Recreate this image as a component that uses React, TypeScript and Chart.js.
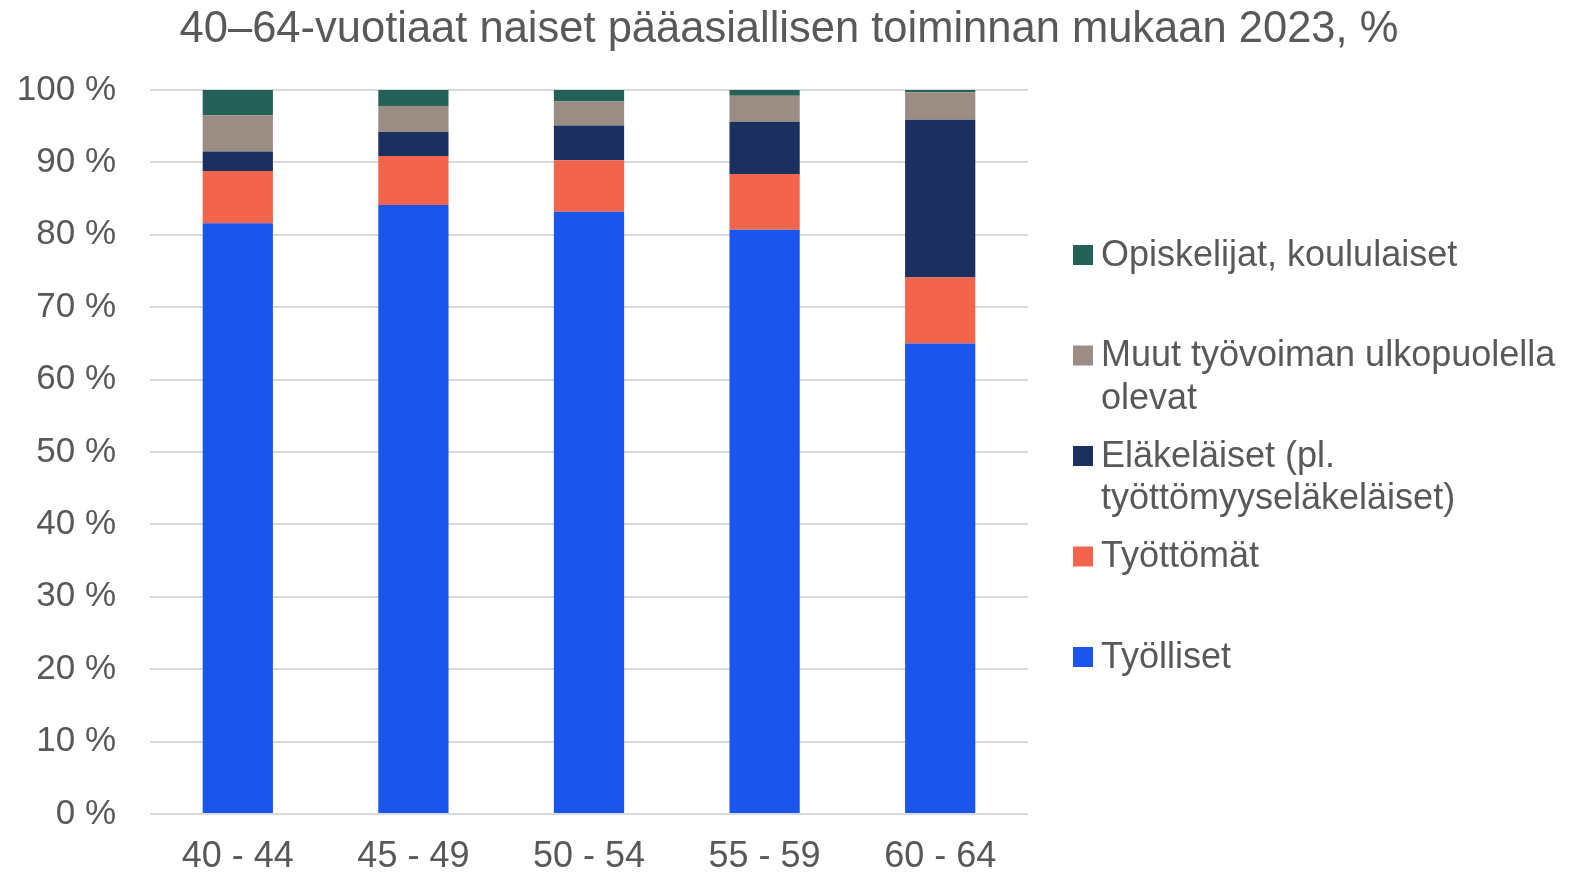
import React, { useEffect, useRef } from "react";
import { Chart, registerables } from "chart.js";

Chart.register(...registerables);

const TITLE = "40–64-vuotiaat naiset pääasiallisen toiminnan mukaan 2023, %";
const categories = ["40 - 44", "45 - 49", "50 - 54", "55 - 59", "60 - 64"];

const tyolliset = [81.6, 84.1, 83.2, 80.7, 65.0];
const tyottomat = [7.2, 6.8, 7.1, 7.7, 9.1];
const elakelaiset = [2.7, 3.3, 4.8, 7.2, 21.8];
const muut = [5.0, 3.6, 3.3, 3.6, 3.8];
const opiskelijat = [3.5, 2.2, 1.6, 0.8, 0.3];

const seriesLabels = [
  "Työlliset",
  "Työttömät",
  "Eläkeläiset (pl. työttömyyseläkeläiset)",
  "Muut työvoiman ulkopuolella olevat",
  "Opiskelijat, koululaiset",
];
// legend lines (wrapped as in the reference)
const legendLines = [
  ["Työlliset"],
  ["Työttömät"],
  ["Eläkeläiset (pl.", "työttömyyseläkeläiset)"],
  ["Muut työvoiman ulkopuolella", "olevat"],
  ["Opiskelijat, koululaiset"],
];
const colors = ["#1b56ec", "#f2644c", "#1b305e", "#9b8c84", "#246257"];
const yTicks = [0, 10, 20, 30, 40, 50, 60, 70, 80, 90, 100];

const FONT = "'Liberation Sans', Arial, sans-serif";
const TEXT = "#595959";

const overlayPlugin = {
  id: "overlay",
  afterDraw(chart: any) {
    const ctx = chart.ctx;
    ctx.save();
    ctx.fillStyle = TEXT;
    ctx.font = `43.5px ${FONT}`;
    ctx.textAlign = "center";
    ctx.textBaseline = "alphabetic";
    ctx.fillText(TITLE, 789, 42);

    // legend (reverse order)
    ctx.font = `36px ${FONT}`;
    ctx.textAlign = "left";
    ctx.textBaseline = "middle";
    const n = legendLines.length;
    for (let k = 0; k < n; k++) {
      const i = n - 1 - k;
      const cy = 255 + k * 100.5;
      ctx.fillStyle = colors[i];
      ctx.fillRect(1073, cy - 10, 20, 20);
      ctx.fillStyle = TEXT;
      legendLines[i].forEach((line, j) => {
        ctx.fillText(line, 1101, cy + 1 + j * 42.5);
      });
    }
    ctx.restore();
  },
};

export default function App() {
  const ref = useRef<HTMLCanvasElement | null>(null);
  useEffect(() => {
    document.body.style.margin = "0";
    const data = [tyolliset, tyottomat, elakelaiset, muut, opiskelijat];
    const chart = new Chart(ref.current as HTMLCanvasElement, {
      type: "bar",
      data: {
        labels: categories,
        datasets: data.map((d, i) => ({
          label: seriesLabels[i],
          data: d,
          backgroundColor: colors[i],
          borderWidth: 0,
          categoryPercentage: 1,
          barPercentage: 0.4,
        })),
      },
      options: {
        responsive: false,
        animation: false,
        devicePixelRatio: 1,
        layout: { padding: { top: 90, right: 557, left: 0, bottom: 0 } },
        plugins: {
          legend: { display: false },
          title: { display: false },
          tooltip: { enabled: false },
        },
        scales: {
          x: {
            stacked: true,
            grid: { display: false, drawTicks: false },
            border: { display: false },
            ticks: {
              color: TEXT,
              font: { family: FONT, size: 36 },
              padding: 21,
              maxRotation: 0,
            },
            afterFit: (s: any) => {
              s.height = 60;
            },
          },
          y: {
            stacked: true,
            min: 0,
            max: 100,
            afterBuildTicks: (s: any) => {
              s.ticks = yTicks.map((v) => ({ value: v }));
            },
            grid: { color: "#d9d9d9", lineWidth: 2, drawTicks: false },
            border: { display: false },
            ticks: {
              color: TEXT,
              font: { family: FONT, size: 35 },
              padding: 34,
              callback: (v: any) => `${v} %`,
            },
            afterFit: (s: any) => {
              s.width = 150;
            },
          },
        },
      },
      plugins: [overlayPlugin],
    });
    return () => chart.destroy();
  }, []);
  return (
    <div style={{ width: 1585, height: 874, background: "#fff" }}>
      <canvas ref={ref} width={1585} height={874} />
    </div>
  );
}
